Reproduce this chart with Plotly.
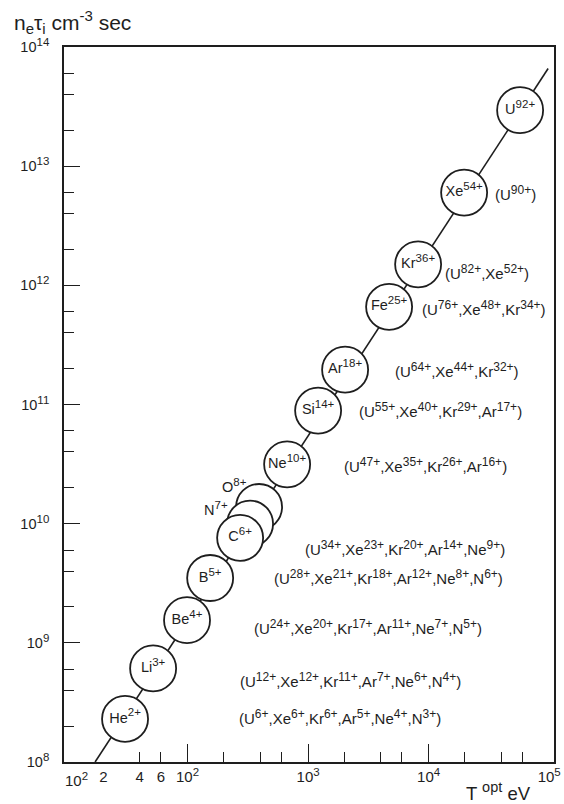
import numpy as np
import plotly.graph_objects as go

# ---------------- data ----------------
ions = ["He", "Li", "Be", "B", "C", "N", "O", "Ne", "Si", "Ar", "Fe", "Kr", "Xe", "U"]
charges = ["2+", "3+", "4+", "5+", "6+", "7+", "8+", "10+", "14+", "18+", "25+", "36+", "54+", "92+"]
t_opt_ev = [30.3, 51.8, 99, 154, 273, 330, 392, 670, 1211, 2028, 4700, 8180, 19700, 57400]
ne_tau = [2.3e8, 6.1e8, 1.55e9, 3.5e9, 7.6e9, 1.0e10, 1.38e10, 3.15e10, 8.9e10,
          1.96e11, 6.6e11, 1.5e12, 6.0e12, 2.95e13]

line_t = [17.1, 9.8e4]
line_ne = [1.0e8, 6.6e13]

# equivalent ions (same conditions), one group per row
equiv_groups = [
    [("U", "90+")],
    [("U", "82+"), ("Xe", "52+")],
    [("U", "76+"), ("Xe", "48+"), ("Kr", "34+")],
    [("U", "64+"), ("Xe", "44+"), ("Kr", "32+")],
    [("U", "55+"), ("Xe", "40+"), ("Kr", "29+"), ("Ar", "17+")],
    [("U", "47+"), ("Xe", "35+"), ("Kr", "26+"), ("Ar", "16+")],
    [("U", "34+"), ("Xe", "23+"), ("Kr", "20+"), ("Ar", "14+"), ("Ne", "9+")],
    [("U", "28+"), ("Xe", "21+"), ("Kr", "18+"), ("Ar", "12+"), ("Ne", "8+"), ("N", "6+")],
    [("U", "24+"), ("Xe", "20+"), ("Kr", "17+"), ("Ar", "11+"), ("Ne", "7+"), ("N", "5+")],
    [("U", "12+"), ("Xe", "12+"), ("Kr", "11+"), ("Ar", "7+"), ("Ne", "6+"), ("N", "4+")],
    [("U", "6+"), ("Xe", "6+"), ("Kr", "6+"), ("Ar", "5+"), ("Ne", "4+"), ("N", "3+")],
]

x_major = [100, 1000, 10000]
x_minor = [40, 60, 200, 400, 600, 2000, 4000, 6000, 20000, 40000, 60000]
x_label_vals = [20, 40, 60, 100, 1000, 10000, 100000]
x_label_exp = [None, None, None, "2", "3", "4", "5"]
x_label_mant = ["2", "4", "6", "10", "10", "10", "10"]
x_first_label = ("10", "2")

y_major = [1e8, 1e9, 1e10, 1e11, 1e12, 1e13, 1e14]
y_major_exp = ["8", "9", "10", "11", "12", "13", "14"]
y_minor = [m * 10 ** e for e in range(8, 14) for m in (2, 4, 6)]

# ---------------- style ----------------
INK = "#1e1e1e"
FONT = "Liberation Sans, Arial, Helvetica, sans-serif"


def sup(base, s, size):
    return f"{base}<sup><span style='font-size:{size}px'>{s}</span></sup>"


def sub(base, s, size):
    return f"{base}<sub><span style='font-size:{size}px'>{s}</span></sub>"


fig = go.Figure()

fig.add_trace(go.Scatter(x=line_t, y=line_ne, mode="lines",
                         line=dict(color=INK, width=1.6), hoverinfo="skip",
                         showlegend=False))

outside = {"N", "O"}
LBL = 14.5
LBL_SUP = 11.5
labels = ["" if ion in outside else sup(ion, c, LBL_SUP) for ion, c in zip(ions, charges)]

# draw from high T to low T so C overlaps N overlaps O
fig.add_trace(go.Scatter(
    x=t_opt_ev[::-1], y=ne_tau[::-1], mode="markers+text",
    text=labels[::-1], textposition="middle center",
    textfont=dict(family=FONT, size=LBL, color=INK),
    marker=dict(size=46, color="white", line=dict(color=INK, width=1.8)),
    hoverinfo="skip", showlegend=False))

# dummy trace for the label axis
fig.add_trace(go.Scatter(x=[1e3], y=[1e8], xaxis="x2", yaxis="y", mode="markers",
                         marker=dict(opacity=0), hoverinfo="skip", showlegend=False))

annotations = []
# labels of the N and O circles, outside to the left
out_shift = {"N": (-34, 15), "O": (-25, 22)}
for ion, c, t, n in zip(ions, charges, t_opt_ev, ne_tau):
    if ion in out_shift:
        dx, dy = out_shift[ion]
        annotations.append(dict(x=np.log10(t), y=np.log10(n), xref="x", yref="y",
                                text=sup(ion, c, LBL_SUP), showarrow=False,
                                xshift=dx, yshift=dy,
                                font=dict(family=FONT, size=LBL, color=INK)))

# bracket labels: left anchor (T, ne)
bracket_anchor_t = [34300, 13200, 8500, 5070, 2550, 1915, 910, 502, 343, 262, 258]
bracket_anchor_ne = [6.0e12, 1.29e12, 6.4e11, 1.94e11, 8.95e10, 3.09e10, 6.24e9,
                     3.56e9, 1.36e9, 4.9e8, 2.38e8]
for grp, t, n in zip(equiv_groups, bracket_anchor_t, bracket_anchor_ne):
    txt = "(" + ",".join(sup(e, c, 12) for e, c in grp) + ")"
    annotations.append(dict(x=np.log10(t), y=np.log10(n), xref="x", yref="y",
                            text=txt, showarrow=False, xanchor="left", yanchor="middle",
                            font=dict(family=FONT, size=15, color=INK)))

# axis titles
ytitle = sub("n", "e", 15) + sub("τ", "i", 15) + " " + sup("cm", "-3", 15) + " sec"
annotations.append(dict(x=-0.106, y=1.035, xref="paper", yref="paper",
                        xanchor="left", yanchor="middle", showarrow=False,
                        text=ytitle,
                        font=dict(family=FONT, size=21, color=INK)))
annotations.append(dict(x=0.886, y=-0.041, xref="paper", yref="paper",
                        xanchor="center", yanchor="middle", showarrow=False,
                        text="T " + sup("", "opt", 14.5) + " eV",
                        font=dict(family=FONT, size=18.5, color=INK)))
annotations.append(dict(x=1.0, y=-0.0238, xref="x", yref="paper",
                        xanchor="left", yanchor="middle", showarrow=False, xshift=-4,
                        text=sup(x_first_label[0], x_first_label[1], 11.5),
                        font=dict(family=FONT, size=15, color=INK)))

x_label_text = [m if e is None else sup(m, e, 11.5) for m, e in zip(x_label_mant, x_label_exp)]
y_major_text = [sup("10", e, 11.5) for e in y_major_exp]

xr = [0.975, 5.04]
fig.update_layout(
    template="none",
    width=564, height=804,
    margin=dict(l=64, r=10, t=47, b=42, autoexpand=False),
    paper_bgcolor="white", plot_bgcolor="white",
    font=dict(family=FONT, color=INK),
    showlegend=False,
    xaxis=dict(type="log", range=xr, showgrid=False, zeroline=False, automargin=False,
               showline=True, linecolor=INK, linewidth=1.6, mirror=True,
               tickmode="array", tickvals=x_major, ticks="inside", ticklen=18,
               tickwidth=1.4, tickcolor=INK, showticklabels=False,
               minor=dict(tickmode="array", tickvals=x_minor, ticks="inside",
                          ticklen=10, tickwidth=1.3, tickcolor=INK, showgrid=False)),
    xaxis2=dict(type="log", range=xr, overlaying="x", anchor="y", side="bottom",
                showgrid=False, zeroline=False, showline=False, ticks="", automargin=False,
                tickmode="array", tickvals=x_label_vals, ticktext=x_label_text,
                tickfont=dict(family=FONT, size=15, color=INK), ticklabelstandoff=4),
    yaxis=dict(type="log", range=[8, 14], showgrid=False, zeroline=False, automargin=False,
               showline=True, linecolor=INK, linewidth=1.6, mirror=True,
               tickmode="array", tickvals=y_major, ticktext=y_major_text,
               ticks="inside", ticklen=16, tickwidth=1.4, tickcolor=INK,
               tickfont=dict(family=FONT, size=14.5, color=INK), ticklabelstandoff=10,
               minor=dict(tickmode="array", tickvals=y_minor, ticks="inside",
                          ticklen=10, tickwidth=1.3, tickcolor=INK, showgrid=False)),
    annotations=annotations,
)

fig.write_html("out.html", config={"displayModeBar": False},
               post_script="document.body.style.margin='0';document.body.style.overflow='hidden';")
